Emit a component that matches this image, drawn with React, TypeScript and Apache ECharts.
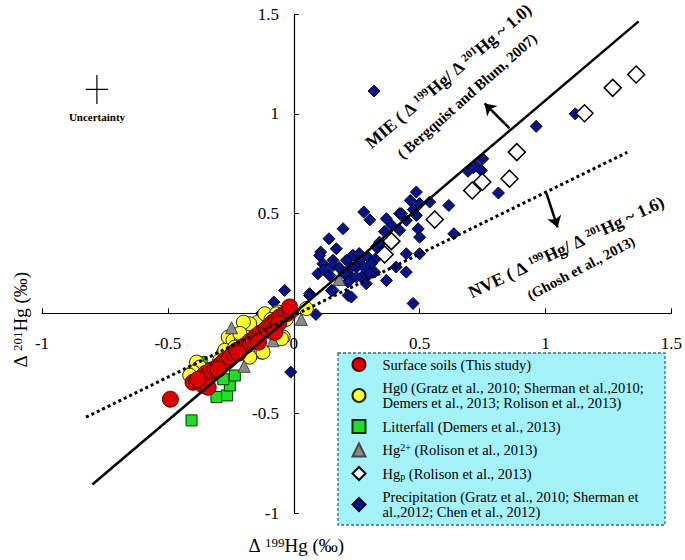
import React, { useEffect, useRef } from 'react';
import * as echarts from 'echarts';

const FONT = "'Liberation Serif', 'Times New Roman', serif";

// axis ranges
const xRange = [-1, 1.5];
const yRange = [-1, 1.5];
const tickStep = 0.5;

// series names (legend order)
const seriesNames = ['Surface soils', 'Hg0', 'Litterfall', 'Hg2+', 'Hgp', 'Precipitation'];
const legendLabels: Record<string, string> = {
  'Surface soils': 'Surface soils (This study)',
  'Hg0': 'Hg0 (Gratz et al., 2010; Sherman et al.,2010;\nDemers et al., 2013; Rolison et al., 2013)',
  'Litterfall': 'Litterfall (Demers et al., 2013)',
  'Hg2+': 'Hg{sup|2+} (Rolison et al., 2013)',
  'Hgp': 'Hg{sub|p} (Rolison et al., 2013)',
  'Precipitation': 'Precipitation (Gratz et al., 2010; Sherman et\nal.,2012; Chen et al., 2012)',
};

// data: [Δ199Hg, Δ201Hg]
const surfaceSoils = [
  [-0.49, -0.43], [-0.4, -0.345], [-0.386, -0.336], [-0.37, -0.33], [-0.36, -0.315], [-0.35, -0.3],
  [-0.34, -0.305], [-0.33, -0.285], [-0.313, -0.277], [-0.3, -0.265], [-0.287, -0.252], [-0.275, -0.235],
  [-0.265, -0.24], [-0.254, -0.219], [-0.24, -0.2], [-0.227, -0.185], [-0.215, -0.18], [-0.2, -0.165],
  [-0.188, -0.16], [-0.175, -0.14], [-0.161, -0.135], [-0.15, -0.115], [-0.135, -0.1], [-0.12, -0.09],
  [-0.108, -0.077], [-0.095, -0.06], [-0.082, -0.044], [-0.07, -0.035], [-0.056, -0.018], [-0.04, -0.005],
  [-0.029, -0.002], [-0.015, 0.01], [-0.016, 0.032], [-0.06, -0.05], [-0.14, -0.144], [-0.22, -0.2],
  [-0.3, -0.28], [-0.37, -0.345], [-0.36, -0.36], [-0.34, -0.37], [-0.38, -0.33], [-0.075, -0.094],
];
const hg0 = [
  [-0.194, -0.052], [-0.168, -0.06], [-0.142, -0.044], [-0.201, -0.094], [-0.26, -0.119], [-0.241, -0.135],
  [-0.208, -0.127], [-0.042, -0.119], [-0.075, -0.11], [-0.128, -0.194], [-0.175, -0.219], [-0.28, -0.202],
  [-0.294, -0.235], [-0.386, -0.244], [-0.373, -0.269], [-0.4, -0.294], [-0.062, 0.007], [-0.115, -0.002],
  [0.05, 0.024], [-0.175, -0.052], [-0.2, -0.044], [-0.413, -0.31], [-0.049, -0.127], [-0.122, -0.194],
  [-0.069, -0.002], [-0.274, -0.185], [-0.234, -0.169], [-0.214, -0.1], [-0.1, -0.06], [-0.03, -0.03],
  [-0.09, -0.03],
];
const litterfall = [
  [-0.406, -0.536], [-0.307, -0.419], [-0.265, -0.411], [-0.254, -0.361], [-0.234, -0.311],
  [-0.327, -0.286], [-0.366, -0.244], [-0.333, -0.3], [-0.28, -0.33],
];
const hg2 = [[-0.247, -0.072], [-0.197, -0.265], [-0.082, -0.137], [0.03, -0.03], [0.18, 0.17]];
const hgp = [
  [1.36, 1.197], [1.267, 1.13], [1.155, 1.003], [0.886, 0.808], [0.857, 0.675], [0.749, 0.658],
  [0.709, 0.616], [0.56, 0.47], [0.388, 0.362], [0.361, 0.295],
];
const precipitation = [
  [0.319, 1.114], [0.963, 0.937], [1.118, 1.0], [0.692, 0.712], [0.725, 0.74], [0.751, 0.775],
  [0.745, 0.716], [0.713, 0.73], [0.813, 0.603], [0.616, 0.541], [0.54, 0.558], [0.636, 0.399],
  [0.474, 0.05], [0.487, 0.608], [0.463, 0.566], [0.5, 0.55], [0.278, 0.508], [0.302, 0.469],
  [0.368, 0.474], [0.421, 0.5], [0.447, 0.466], [0.487, 0.491], [0.494, 0.424], [0.5, 0.382],
  [0.196, 0.424], [0.14, 0.374], [0.107, 0.307], [0.169, 0.324], [0.156, 0.266], [0.116, 0.249],
  [0.096, 0.199], [0.143, 0.19], [0.235, 0.291], [0.262, 0.266], [0.295, 0.282], [0.308, 0.249],
  [0.249, 0.232], [0.216, 0.199], [0.269, 0.182], [0.222, 0.165], [0.288, 0.149], [0.321, 0.207],
  [0.341, 0.349], [0.368, 0.165], [0.407, 0.232], [0.447, 0.299], [0.447, 0.207], [0.5, 0.299],
  [0.421, 0.416], [0.063, 0.099], [0.156, 0.115], [0.216, 0.09], [0.229, 0.082], [0.088, -0.005],
  [-0.036, 0.115], [-0.079, 0.057], [-0.128, 0.0], [0.063, 0.09], [-0.012, -0.294], [0.103, 0.29],
  [0.156, 0.24], [0.15, 0.115], [0.328, 0.333], [0.341, 0.357], [0.209, 0.266], [0.229, 0.232],
  [0.302, 0.199], [0.249, 0.182], [0.216, 0.157], [0.427, 0.5], [0.39, 0.44], [0.475, 0.52],
  [0.2, 0.2], [0.26, 0.3], [0.33, 0.28], [0.36, 0.41], [0.18, 0.23], [0.12, 0.22], [0.28, 0.23],
];

// reference lines
const mieLine = [[-0.8, -0.857], [1.37, 1.463]];
const nveLine = [[-0.825, -0.52], [1.325, 0.807]];
// annotation arrows [from, to]
const mieArrow = [[0.857, 0.927], [0.758, 1.052]];
const nveArrow = [[1.004, 0.601], [1.048, 0.431]];
// uncertainty cross
const uncCenter = [-0.782, 1.122];
const uncHalfX = 0.044;
const uncHalfY = 0.073;

const sup = (size: number) => ({ fontSize: size, fontFamily: FONT, verticalAlign: 'top' as const });

function buildOption() {
  const textBase = { fontFamily: FONT, color: '#000' };
  const scatter = (name: string, data: number[][], symbol: string, size: number, color: string, border: string, bw = 1) => ({
    name, type: 'scatter', data, symbol, symbolSize: size,
    itemStyle: { color, borderColor: border, borderWidth: bw, opacity: 1 },
    emphasis: { disabled: true },
  });
  const lineSeries = (data: number[][], type: any, width: number) => ({
    type: 'line', data, symbol: 'none', silent: true,
    lineStyle: { color: '#000', width, type },
  });
  const arrow = (pts: number[][]) => ({
    type: 'line', data: [], silent: true,
    markLine: {
      silent: true, symbol: ['none', 'arrow'], symbolSize: 11, label: { show: false },
      lineStyle: { color: '#000', width: 2.5, type: 'solid' },
      data: [[{ coord: pts[0] }, { coord: pts[1] }]],
    },
  });
  // grid geometry (pixels)
  const gridLeft = 42, gridRight = 13, gridTop = 14, gridBottom = 47;
  const plotW = 685 - gridLeft - gridRight;
  const plotH = 560 - gridTop - gridBottom;
  // shift axes so they cross at the origin
  const xAxisOffset = -plotH * (0 - yRange[0]) / (yRange[1] - yRange[0]);
  const yAxisOffset = -plotW * (0 - xRange[0]) / (xRange[1] - xRange[0]);
  return {
    animation: false,
    backgroundColor: '#fff',
    grid: { left: gridLeft, right: gridRight, top: gridTop, bottom: gridBottom },
    xAxis: {
      type: 'value', min: xRange[0], max: xRange[1], interval: tickStep,
      position: 'bottom', offset: xAxisOffset,
      axisLine: { onZero: false, lineStyle: { color: '#000', width: 1.2 } },
      axisTick: { inside: true, length: 5, lineStyle: { color: '#000' } },
      axisLabel: { ...textBase, fontSize: 17, margin: 22, formatter: (v: number) => String(v) },
      splitLine: { show: false },
    },
    yAxis: {
      type: 'value', min: yRange[0], max: yRange[1], interval: tickStep,
      position: 'left', offset: yAxisOffset,
      axisLine: { onZero: false, lineStyle: { color: '#000', width: 1.2 } },
      axisTick: { inside: true, length: 5, lineStyle: { color: '#000' } },
      axisLabel: { ...textBase, fontSize: 17, margin: 15, formatter: (v: number) => (v === 0 ? '' : String(v)) },
      splitLine: { show: false },
    },
    legend: {
      data: seriesNames,
      orient: 'vertical', left: 351.5, top: 357, z: 10,
      itemWidth: 13, itemHeight: 13, itemGap: 8.5, padding: 0,
      selectedMode: false,
      formatter: (name: string) => legendLabels[name],
      textStyle: {
        ...textBase, fontSize: 14.5, lineHeight: 15, padding: [0, 0, 0, 12],
        rich: {
          sup: { fontSize: 10, fontFamily: FONT, verticalAlign: 'top', lineHeight: 15 },
          sub: { fontSize: 10, fontFamily: FONT, verticalAlign: 'bottom', lineHeight: 15 },
        },
      },
    },
    graphic: [
      {
        type: 'rect', z: 1,
        shape: { x: 338, y: 353, width: 327, height: 172 },
        style: { fill: '#A4F1F8', stroke: '#3a6f78', lineWidth: 1.3, lineDash: [3, 2] },
      },
      {
        type: 'text', x: 97, y: 117,
        style: { text: 'Uncertainty', fontFamily: FONT, fontSize: 11, fontWeight: 'bold', fill: '#000', align: 'center', verticalAlign: 'middle' },
      },
      {
        type: 'text', x: 296, y: 545,
        style: {
          text: 'Δ {s|199}Hg (‰)', fontFamily: FONT, fontSize: 19, fill: '#000', align: 'center', verticalAlign: 'middle',
          rich: { s: sup(13) },
        },
      },
      {
        type: 'text', x: 20, y: 320, rotation: Math.PI / 2,
        style: {
          text: 'Δ {s|201}Hg (‰)', fontFamily: FONT, fontSize: 19, fill: '#000', align: 'center', verticalAlign: 'middle',
          rich: { s: sup(13) },
        },
      },
      {
        type: 'text', x: 448, y: 76, rotation: (40.5 * Math.PI) / 180,
        style: {
          text: 'MIE ( Δ {s|199}Hg/ Δ {s|201}Hg ~ 1.0)', fontFamily: FONT, fontSize: 17.5, fontWeight: 'bold', fill: '#000',
          align: 'center', verticalAlign: 'middle', rich: { s: { ...sup(11), fontWeight: 'bold' } },
        },
      },
      {
        type: 'text', x: 467, y: 96, rotation: (41.5 * Math.PI) / 180,
        style: {
          text: '( Bergquist and Blum, 2007)', fontFamily: FONT, fontSize: 15, fontWeight: 'bold', fill: '#000',
          align: 'center', verticalAlign: 'middle',
        },
      },
      {
        type: 'text', x: 566, y: 247, rotation: (25.5 * Math.PI) / 180,
        style: {
          text: 'NVE ( Δ {s|199}Hg/ Δ {s|201}Hg ~ 1.6)', fontFamily: FONT, fontSize: 17.5, fontWeight: 'bold', fill: '#000',
          align: 'center', verticalAlign: 'middle', rich: { s: { ...sup(11), fontWeight: 'bold' } },
        },
      },
      {
        type: 'text', x: 581, y: 268, rotation: (28 * Math.PI) / 180,
        style: {
          text: '(Ghosh et al., 2013)', fontFamily: FONT, fontSize: 14.5, fontWeight: 'bold', fill: '#000',
          align: 'center', verticalAlign: 'middle',
        },
      },
    ],
    series: [
      scatter('Precipitation', precipitation, 'diamond', 12, '#0a1585', '#000022', 1),
      scatter('Hgp', hgp, 'diamond', 17, '#ffffff', '#000000', 1.5),
      lineSeries(mieLine, 'solid', 2.5),
      lineSeries(nveLine, [3, 3], 3),
      arrow(mieArrow),
      arrow(nveArrow),
      lineSeries([[uncCenter[0] - uncHalfX, uncCenter[1]], [uncCenter[0] + uncHalfX, uncCenter[1]]], 'solid', 1.2),
      lineSeries([[uncCenter[0], uncCenter[1] - uncHalfY], [uncCenter[0], uncCenter[1] + uncHalfY]], 'solid', 1.2),
      scatter('Litterfall', litterfall, 'rect', 11, '#22dd22', '#003300', 1),
      scatter('Hg0', hg0, 'circle', 14, '#ffff33', '#222200', 1),
      scatter('Hg2+', hg2, 'triangle', 12, '#8a8a8a', '#444444', 1),
      scatter('Surface soils', surfaceSoils, 'circle', 16, '#dd0000', '#550000', 1),
    ],
  };
}

export default function App() {
  const ref = useRef<HTMLDivElement>(null);
  useEffect(() => {
    const chart = echarts.init(ref.current as HTMLDivElement, null, { renderer: 'svg' });
    chart.setOption(buildOption() as any);
    return () => chart.dispose();
  }, []);
  return (
    <div
      ref={ref}
      style={{ position: 'fixed', left: 0, top: 0, width: 685, height: 560, background: '#fff' }}
    />
  );
}
